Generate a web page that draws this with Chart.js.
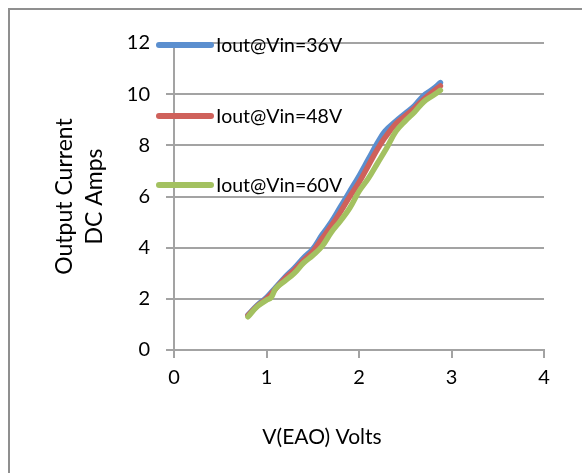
<!DOCTYPE html>
<html>
<head>
<meta charset="utf-8">
<title>Output Current vs V(EAO)</title>
<script src="https://cdn.jsdelivr.net/npm/chart.js@4.4.1/dist/chart.umd.min.js"></script>
<style>
  html, body { margin: 0; padding: 0; background: #fff; }
  canvas { display: block; }
</style>
</head>
<body>
<canvas id="chart" width="582" height="473"></canvas>
<script>
  // ── Data ───────────────────────────────────────────────────
  var seriesLabels = ['Iout@Vin=36V', 'Iout@Vin=48V', 'Iout@Vin=60V'];

  var veao36 = [0.80, 0.90, 1.00, 1.10, 1.20, 1.30, 1.40, 1.50, 1.60, 1.70, 1.80,
                1.90, 2.00, 2.10, 2.20, 2.28, 2.40, 2.50, 2.60, 2.70, 2.80, 2.88];
  var iout36 = [1.37, 1.75, 2.05, 2.45, 2.85, 3.20, 3.60, 3.95, 4.50, 5.00, 5.60,
                6.20, 6.80, 7.45, 8.10, 8.55, 8.95, 9.25, 9.55, 9.95, 10.20, 10.45];

  var veao48 = [0.80, 0.90, 1.00, 1.10, 1.20, 1.30, 1.40, 1.50, 1.60, 1.70, 1.80,
                1.90, 2.00, 2.10, 2.20, 2.28, 2.40, 2.50, 2.60, 2.70, 2.80, 2.88];
  var iout48 = [1.35, 1.72, 2.00, 2.40, 2.80, 3.12, 3.50, 3.85, 4.35, 4.85, 5.40,
                6.00, 6.55, 7.20, 7.85, 8.30, 8.85, 9.15, 9.45, 9.80, 10.10, 10.32];

  var veao60 = [0.80, 0.90, 1.00, 1.05, 1.10, 1.20, 1.30, 1.40, 1.50, 1.60, 1.70, 1.80,
                1.90, 2.00, 2.10, 2.20, 2.30, 2.40, 2.50, 2.60, 2.70, 2.80, 2.88];
  var iout60 = [1.30, 1.70, 1.95, 2.05, 2.40, 2.70, 3.00, 3.40, 3.70, 4.05, 4.60, 5.05,
                5.55, 6.20, 6.70, 7.30, 7.90, 8.55, 8.95, 9.30, 9.70, 9.95, 10.15];

  var xTitle = 'V(EAO) Volts';
  var yTitle = ['Output Current', 'DC Amps'];

  // ── Styling ────────────────────────────────────────────────
  var COLORS = ['#5B8FCF', '#CF615B', '#A3C160'];
  var GRID = '#a3a3a3';
  var FONT = 'Lato, "Open Sans", sans-serif';

  function toPoints(xs, ys) {
    return xs.map(function (x, i) { return { x: x, y: ys[i] }; });
  }

  function makeSet(idx, xs, ys) {
    return {
      label: seriesLabels[idx],
      data: toPoints(xs, ys),
      borderColor: COLORS[idx],
      backgroundColor: COLORS[idx],
      borderWidth: 5.5,
      pointRadius: 0,
      tension: 0.4,
      borderCapStyle: 'round',
      borderJoinStyle: 'round',
      order: 2 - idx
    };
  }

  // frame + white page
  var framePlugin = {
    id: 'frame',
    beforeDraw: function (chart) {
      var c = chart.ctx;
      c.save();
      c.fillStyle = '#fff';
      c.fillRect(0, 0, chart.width, chart.height);
      c.strokeStyle = '#8f8f8f';
      c.lineWidth = 2;
      c.strokeRect(9, 9, chart.width + 40, chart.height + 40);
      c.restore();
    }
  };

  // Excel-style legend sitting over the left of the plot, plus x title
  var legendPlugin = {
    id: 'sideLegend',
    afterDatasetsDraw: function (chart) {
      var c = chart.ctx;
      var rows = [45, 116, 185];
      c.save();
      c.font = '19.5px ' + FONT;
      c.textBaseline = 'middle';
      c.textAlign = 'left';
      chart.data.datasets.forEach(function (ds, i) {
        c.strokeStyle = ds.borderColor;
        c.lineWidth = 6;
        c.lineCap = 'round';
        c.beginPath();
        c.moveTo(159, rows[i]);
        c.lineTo(211, rows[i]);
        c.stroke();
        c.fillStyle = '#000';
        c.fillText(ds.label, 216, rows[i] + 1);
      });
      c.font = '21px ' + FONT;
      c.textAlign = 'center';
      c.fillText(xTitle, 322, 437);
      c.restore();
    }
  };

  new Chart(document.getElementById('chart'), {
    type: 'line',
    data: {
      datasets: [
        makeSet(0, veao36, iout36),
        makeSet(1, veao48, iout48),
        makeSet(2, veao60, iout60)
      ]
    },
    options: {
      responsive: false,
      animation: false,
      layout: { padding: { top: 43, right: 38, left: 0, bottom: 0 } },
      plugins: {
        legend: { display: false },
        tooltip: { enabled: false }
      },
      scales: {
        x: {
          type: 'linear',
          min: 0,
          max: 4,
          ticks: { stepSize: 1, color: '#000', font: { family: FONT, size: 20 }, padding: 8 },
          grid: { drawOnChartArea: false, color: GRID, lineWidth: 2, tickLength: 8 },
          border: { color: GRID, width: 2 },
          afterFit: function (s) { s.height = 123; }
        },
        y: {
          min: 0,
          max: 12,
          ticks: { stepSize: 2, color: '#000', font: { family: FONT, size: 20 }, padding: 16 },
          grid: { color: GRID, lineWidth: 2, tickLength: 8 },
          border: { color: GRID, width: 2 },
          title: {
            display: true,
            text: yTitle,
            color: '#000',
            font: { family: FONT, size: 23, lineHeight: 1.3 },
            padding: { top: 50, bottom: 0 }
          },
          afterFit: function (s) { s.width = 174; }
        }
      }
    },
    plugins: [framePlugin, legendPlugin]
  });
</script>
</body>
</html>
